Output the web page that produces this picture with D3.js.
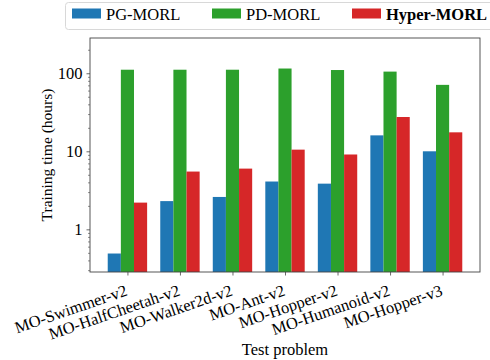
<!DOCTYPE html>
<html>
<head>
<meta charset="utf-8">
<script src="https://cdn.jsdelivr.net/npm/d3@7"></script>
<style>
  body { margin: 0; background: #fff; }
  svg text { font-family: "Liberation Serif", "Times New Roman", serif; fill: #000; }
</style>
</head>
<body>
<div id="vis"></div>
<script>
const WIDTH = 490;
const HEIGHT = 360;
const FONT = "Liberation Serif";

// data
const problems = ["MO-Swimmer-v2", "MO-HalfCheetah-v2", "MO-Walker2d-v2", "MO-Ant-v2",
  "MO-Hopper-v2", "MO-Humanoid-v2", "MO-Hopper-v3"];
const methods = ["PG-MORL", "PD-MORL", "Hyper-MORL"];
const pgMorl = [0.49, 2.3, 2.6, 4.1, 3.85, 16, 10];
const pdMorl = [111, 111, 111, 115, 110, 105, 71];
const hyperMorl = [2.2, 5.5, 6.0, 10.5, 9.1, 27.5, 17.5];
const colours = ["#1f77b4", "#2ca02c", "#d62728"];
const yTicks = [1, 10, 100];

const series = [pgMorl, pdMorl, hyperMorl];

// plot area
const margin = { left: 90, right: 10, top: 38, bottom: 88 };
const plotW = WIDTH - margin.left - margin.right;
const plotH = HEIGHT - margin.top - margin.bottom;

const barW = 0.25;

const svg = d3.select("#vis").append("svg")
  .attr("width", WIDTH)
  .attr("height", HEIGHT)
  .attr("font-family", FONT);

// x is on group index, like matplotlib's positions
const x = d3.scaleLinear()
  .domain([-0.7125, problems.length - 1 + 0.7125])
  .range([margin.left, margin.left + plotW]);

const y = d3.scaleLog()
  .domain([0.284, 283])
  .range([margin.top + plotH, margin.top]);

// bars
series.forEach((vals, s) => {
  svg.append("g")
    .selectAll("rect")
    .data(vals)
    .join("rect")
    .attr("x", (d, i) => x(i + (s - 1) * barW - barW / 2))
    .attr("width", x(barW) - x(0))
    .attr("y", d => y(d))
    .attr("height", d => y.range()[0] - y(d))
    .attr("fill", colours[s]);
});

// y axis with minor ticks
const minor = [];
for (let e = -1; e <= 2; e++) {
  for (let m = 2; m <= 9; m++) {
    const v = m * Math.pow(10, e);
    if (v > y.domain()[0] && v < y.domain()[1]) minor.push(v);
  }
}
const yAxisMinor = svg.append("g")
  .attr("transform", `translate(${margin.left},0)`)
  .call(d3.axisLeft(y).tickValues(minor).tickSize(2).tickFormat(""));
yAxisMinor.select(".domain").remove();
yAxisMinor.selectAll("line").attr("stroke", "#444").attr("stroke-width", 0.6);

const yAxis = svg.append("g")
  .attr("transform", `translate(${margin.left},0)`)
  .call(d3.axisLeft(y).tickValues(yTicks).tickSize(3.5).tickPadding(4).tickFormat(d3.format("d")))
  .attr("font-family", FONT)
  .attr("font-size", 16.5);
yAxis.select(".domain").remove();
yAxis.selectAll("line").attr("stroke", "#444").attr("stroke-width", 0.8);
yAxis.selectAll("text").attr("fill", "#000");

// x axis
const xAxis = svg.append("g")
  .attr("transform", `translate(0,${margin.top + plotH})`)
  .call(d3.axisBottom(x).tickValues(d3.range(problems.length)).tickSize(3.5).tickFormat(""));
xAxis.select(".domain").remove();
xAxis.selectAll("line").attr("stroke", "#444").attr("stroke-width", 0.8);

svg.append("g")
  .selectAll("text")
  .data(problems)
  .join("text")
  .attr("transform", (d, i) => `translate(${x(i) + 1},${margin.top + plotH + 23}) rotate(-19)`)
  .attr("text-anchor", "end")
  .attr("font-size", 16.5)
  .text(d => d);

// frame
svg.append("rect")
  .attr("x", margin.left)
  .attr("y", margin.top)
  .attr("width", plotW)
  .attr("height", plotH)
  .attr("fill", "none")
  .attr("stroke", "#444")
  .attr("stroke-width", 0.9);

// axis labels
svg.append("text")
  .attr("transform", `translate(52,${margin.top + plotH / 2}) rotate(-90)`)
  .attr("text-anchor", "middle")
  .attr("font-size", 15.5)
  .text("Training time (hours)");

svg.append("text")
  .attr("x", margin.left + plotW / 2)
  .attr("y", 355)
  .attr("text-anchor", "middle")
  .attr("font-size", 16.5)
  .text("Test problem");

// legend
const legend = svg.append("g");
legend.append("rect")
  .attr("x", 65.5)
  .attr("y", 2.5)
  .attr("width", 440)
  .attr("height", 27)
  .attr("rx", 3)
  .attr("fill", "#fff")
  .attr("stroke", "#d8d8d8");

const legendX = [72, 212, 352];
methods.forEach((m, i) => {
  legend.append("rect")
    .attr("x", legendX[i])
    .attr("y", 8.5)
    .attr("width", 29)
    .attr("height", 10)
    .attr("fill", colours[i]);
  legend.append("text")
    .attr("x", legendX[i] + 34)
    .attr("y", 19.5)
    .attr("font-size", 16.5)
    .attr("font-weight", i === 2 ? "bold" : "normal")
    .text(m);
});
</script>
</body>
</html>
